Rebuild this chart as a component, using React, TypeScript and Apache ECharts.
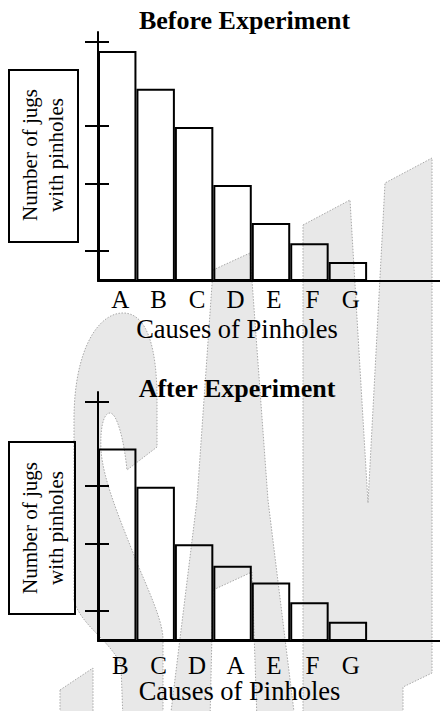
import { useEffect, useRef } from 'react';
import * as echarts from 'echarts';

// ---------- data ----------
const beforeCategories = ['A', 'B', 'C', 'D', 'E', 'F', 'G', '', ''];
const beforeValues = [92.4, 77.2, 61.8, 38.6, 23.3, 15.2, 7.6];
const afterCategories = ['B', 'C', 'D', 'A', 'E', 'F', 'G', '', ''];
const afterValues = [77.3, 61.9, 38.9, 30.2, 23.5, 15.6, 7.7];
const yTickValues = [12, 39, 62.5, 96];
const yMax = 100;

const beforeTitle = 'Before Experiment';
const afterTitle = 'After Experiment';
const xAxisTitle = 'Causes of Pinholes';
const yAxisTitle = 'Number of jugs\nwith pinholes';

// ---------- watermark outlines (decoration) ----------
const WM_S =
  'M74 600 L74 420 C74 350 98 313 123 313 C148 313 157 350 157 400 L157 447 L127 470 ' +
  'C124 440 117 413 110 413 C103 413 100 430 101 450 C103 480 120 520 140 570 ' +
  'C155 605 163 625 163 640 L163 720 L123 720 L121 665 C110 640 80 625 74 600 Z ' +
  'M60 690 L93 668 L93 720 L60 720 Z';
const WM_A =
  'M213 270 L250 253 L268 500 L295 720 L170 720 L197 500 Z ' +
  'M213 590 L210 720 L257 720 L252 572 Z';
const WM_M =
  'M303 225 L350 200 L368 503 L385 183 L432 158 L432 673 L403 687 L403 720 L303 720 Z';

const SERIF = 'Liberation Serif';

export default function App() {
  const ref = useRef<HTMLDivElement>(null);

  useEffect(() => {
    if (!ref.current) return;
    echarts.graphic.registerShape('wmS', echarts.graphic.extendPath(WM_S, {}));
    echarts.graphic.registerShape('wmA', echarts.graphic.extendPath(WM_A, {}));
    echarts.graphic.registerShape('wmM', echarts.graphic.extendPath(WM_M, {}));

    const chart = echarts.init(ref.current, undefined, { renderer: 'svg' });

    const wmStyle = {
      fill: '#e8e8e8',
      stroke: '#a8a8a8',
      lineWidth: 1,
      lineDash: [1.5, 1.5],
    };

    const makeX = (gridIndex: number, data: string[], margin: number) => ({
      type: 'category',
      gridIndex,
      data,
      position: 'bottom',
      boundaryGap: true,
      axisLine: { show: true, onZero: false, lineStyle: { color: '#000', width: 2 } },
      axisTick: { show: false },
      splitLine: { show: false },
      axisLabel: {
        interval: 0,
        color: '#000',
        fontFamily: SERIF,
        fontSize: 25,
        lineHeight: 20,
        margin,
        verticalAlign: 'middle',
        padding: [0, 0, 0, 6],
      },
    });

    const makeY = (gridIndex: number, inside: boolean) => ({
      type: 'value',
      gridIndex,
      position: 'left',
      offset: 0,
      min: 0,
      max: yMax,
      axisLine: { show: !inside, onZero: false, lineStyle: { color: '#000', width: 2 } },
      axisTick: {
        show: true,
        inside,
        length: inside ? 11 : 13,
        customValues: yTickValues,
        lineStyle: { color: '#000', width: 2 },
      },
      axisLabel: { show: false },
      splitLine: { show: false },
    });

    const barStyle = {
      color: 'rgba(0,0,0,0)',
      borderColor: '#000',
      borderWidth: 2,
    };

    const label = (text: string, x: number, y: number, size: number, bold = false) => ({
      type: 'text',
      x,
      y,
      z: 100,
      style: {
        text,
        fill: '#000',
        fontFamily: SERIF,
        fontSize: size,
        lineHeight: Math.round(size * 0.85),
        fontWeight: bold ? 'bold' : 'normal',
        align: 'center',
        verticalAlign: 'middle',
      },
    });

    const yLabel = (y: number) => ({
      type: 'text',
      x: 43,
      y,
      rotation: Math.PI / 2,
      z: 100,
      style: {
        text: yAxisTitle,
        fill: '#000',
        fontFamily: SERIF,
        fontSize: 21,
        lineHeight: 26,
        align: 'center',
        verticalAlign: 'middle',
      },
    });

    chart.setOption({
      animation: false,
      backgroundColor: '#fff',
      grid: [
        { left: 98, top: 32, width: 346, height: 249, outerBoundsMode: 'none', containLabel: false },
        { left: 98, top: 392, width: 346, height: 249, outerBoundsMode: 'none', containLabel: false },
      ],
      xAxis: [makeX(0, beforeCategories, 18), makeX(1, afterCategories, 24)],
      yAxis: [makeY(0, false), makeY(0, true), makeY(1, false), makeY(1, true)],
      series: [
        {
          type: 'bar',
          xAxisIndex: 0,
          yAxisIndex: 0,
          data: beforeValues,
          barWidth: '100%',
          itemStyle: barStyle,
          silent: true,
          z: 5,
        },
        {
          type: 'bar',
          xAxisIndex: 1,
          yAxisIndex: 2,
          data: afterValues,
          barWidth: '100%',
          itemStyle: barStyle,
          silent: true,
          z: 5,
        },
      ],
      graphic: [
        {
          type: 'group',
          z: -10,
          silent: true,
          children: [
            { type: 'wmS', x: 0, y: 0, z: -10, style: wmStyle },
            { type: 'wmA', x: 0, y: 0, z: -10, style: wmStyle },
            { type: 'wmM', x: 0, y: 0, z: -10, style: wmStyle },
          ],
        },
        label(beforeTitle, 244.5, 20, 26, true),
        label(afterTitle, 237, 388, 26, true),
        label(xAxisTitle, 237, 328.5, 26.5),
        label(xAxisTitle, 239.5, 691, 26.5),
        {
          type: 'rect',
          z: 100,
          shape: { x: 9, y: 70, width: 69, height: 172 },
          style: { fill: 'rgba(0,0,0,0)', stroke: '#000', lineWidth: 2 },
        },
        {
          type: 'rect',
          z: 100,
          shape: { x: 9, y: 442, width: 66, height: 172 },
          style: { fill: 'rgba(0,0,0,0)', stroke: '#000', lineWidth: 2 },
        },
        yLabel(155),
        yLabel(528),
      ],
    });

    return () => {
      chart.dispose();
    };
  }, []);

  return (
    <div
      ref={ref}
      style={{ position: 'absolute', left: 0, top: 0, width: 440, height: 711, overflow: 'hidden' }}
    />
  );
}
